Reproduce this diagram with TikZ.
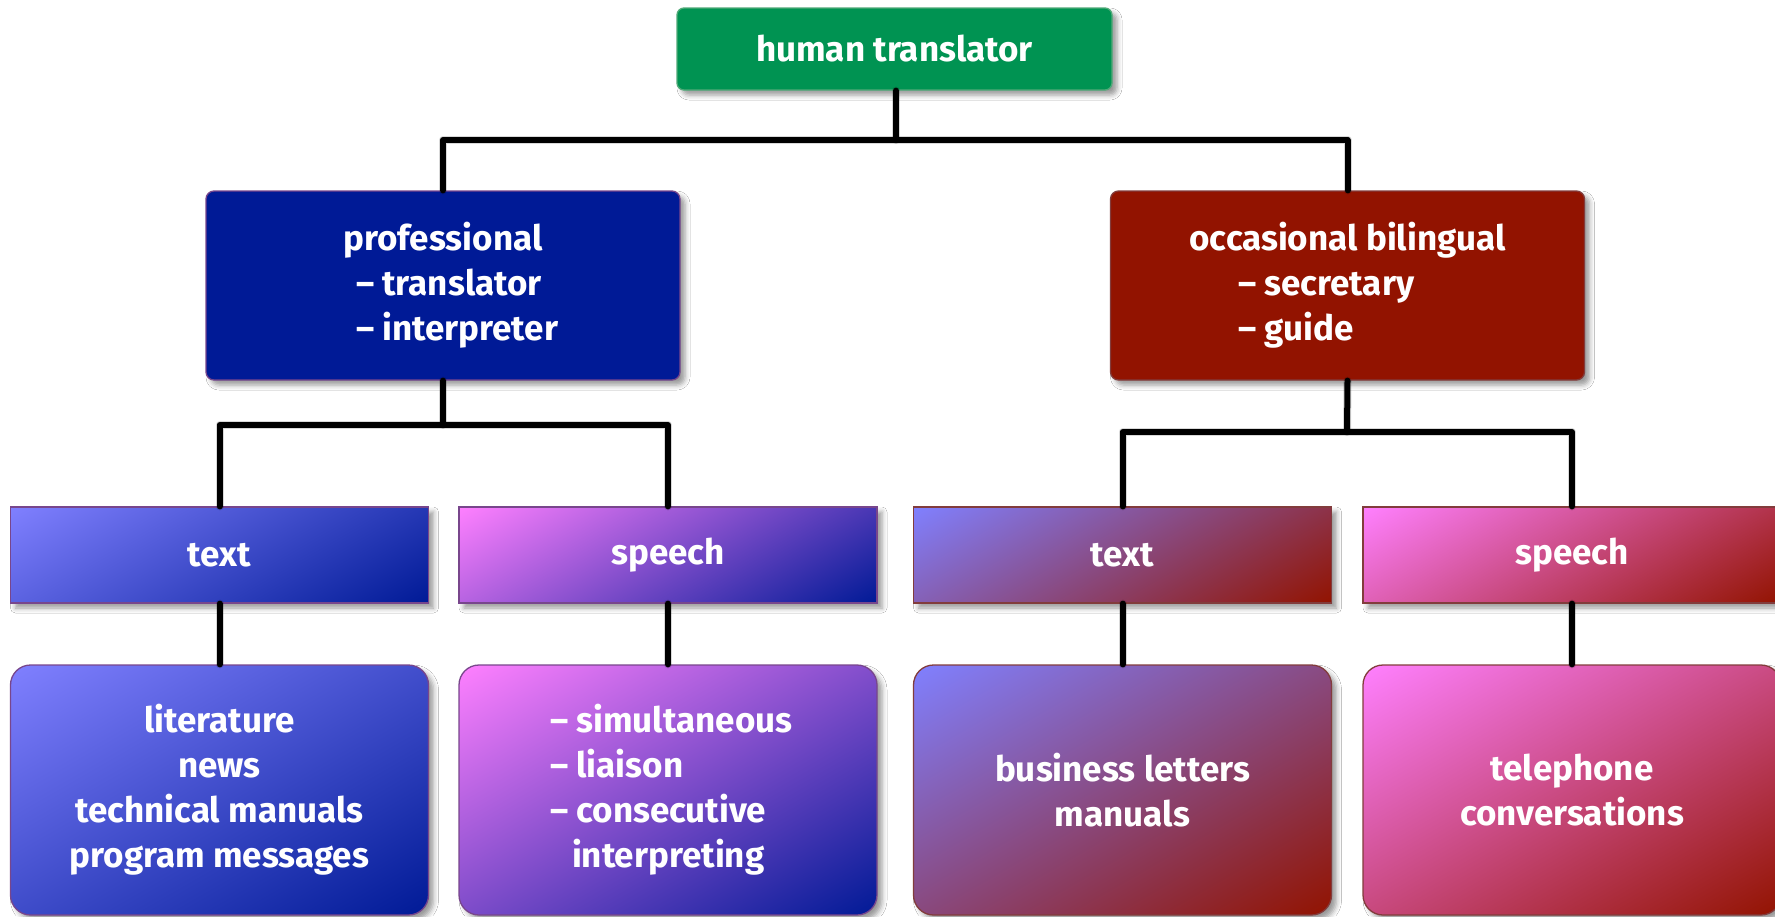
\documentclass[tikz,border=0pt]{standalone}
\usepackage{fontspec}
\setmainfont{Fira Sans}
\usetikzlibrary{shadows.blur}
\definecolor{cgreen}{RGB}{0,147,82}
\definecolor{cnavy}{RGB}{0,26,150}
\definecolor{cred}{RGB}{146,19,0}
\definecolor{bpurple}{RGB}{120,70,140}
\definecolor{bbrown}{RGB}{130,60,60}
\definecolor{bgreen}{RGB}{80,170,120}
% linear gradient, top-left = first colour, bottom-right = second colour
% #1 name, #2 weight of x (per bp), #3 weight of downward y (per bp), #4 rgb code from t
\newcommand\mkgrad[4]{%
  \pgfdeclarefunctionalshading{#1}{\pgfpointorigin}{\pgfpoint{100bp}{100bp}}{}{
    75 exch sub #3 mul exch 25 sub #2 mul add
    dup 0 lt {pop 0} if dup 1 gt {pop 1} if
    #4}}
\def\cblnv{dup -0.502 mul 0.502 add exch dup -0.400 mul 0.502 add exch -0.412 mul 1.0 add}
\def\cpknv{dup -1.0 mul 1.0 add exch dup -0.400 mul 0.502 add exch -0.412 mul 1.0 add}
\def\cblrd{dup 0.071 mul 0.502 add exch dup -0.427 mul 0.502 add exch -1.0 mul 1.0 add}
\def\cpkrd{dup -0.427 mul 1.0 add exch dup -0.427 mul 0.502 add exch -1.0 mul 1.0 add}
% wide boxes (418x96)
\mkgrad{wblue}{0.01431}{0.00569}{\cblnv}
\mkgrad{wpink}{0.01431}{0.00569}{\cpknv}
\mkgrad{wbr}{0.01431}{0.00569}{\cblrd}
\mkgrad{wpr}{0.01431}{0.00569}{\cpkrd}
% tall boxes (418x250)
\mkgrad{tblue}{0.00982}{0.01018}{\cblnv}
\mkgrad{tpink}{0.00982}{0.01018}{\cpknv}
\mkgrad{tbr}{0.00982}{0.01018}{\cblrd}
\mkgrad{tpr}{0.00982}{0.01018}{\cpkrd}
\tikzset{
  box/.style={inner sep=0pt, text=white, align=center,
    font=\fontsize{35}{45}\selectfont\bfseries, line width=1.3pt,
    blur shadow={shadow xshift=5pt, shadow yshift=-5pt, shadow blur radius=5pt, shadow opacity=40}},
  topbox/.style={box, fill=cgreen, draw=bgreen, rounded corners=7pt, minimum width=435pt, minimum height=82pt},
  midbox/.style={box, rounded corners=8pt, minimum width=474pt, minimum height=189pt},
  lthree/.style={box, minimum width=418pt, minimum height=96pt},
  lfour/.style={box, rounded corners=20pt, minimum width=418pt, minimum height=250pt},
  pl/.style={draw=bpurple}, rl/.style={draw=bbrown},
  conn/.style={line width=6pt, line cap=round, line join=round, black},
  connshadow/.style={line width=8pt, line cap=round, line join=round, black, opacity=0.15, shift={(3pt,-4pt)}}
}
\begin{document}
\begin{tikzpicture}[x=1pt,y=-1pt]
\useasboundingbox (0,0) rectangle (1775,916);
\fill[white] (0,0) rectangle (1775,916);
% nodes
\node[topbox] (top) at (894.5,49) {human translator};
\node[midbox, fill=cnavy, pl] (prof) at (443,285.5)
  {professional\\\makebox[174pt][l]{– translator}\\\makebox[174pt][l]{– interpreter}};
\node[midbox, fill=cred, rl] (occ) at (1347.5,285.5)
  {occasional bilingual\\\makebox[219pt][l]{– secretary}\\\makebox[219pt][l]{– guide}};
\node[lthree, shade, shading=wblue, pl] (t1) at (219.5,555) {text};
\node[lthree, shade, shading=wpink, pl] (s1) at (668,555) {speech};
\node[lthree, shade, shading=wbr, rl] (t2) at (1122.5,555) {text};
\node[lthree, shade, shading=wpr, rl] (s2) at (1572,555) {speech};
\node[lfour, shade, shading=tblue, pl] (t1b) at (219.5,790) {literature\\news\\technical manuals\\program messages};
\node[lfour, shade, shading=tpink, pl] (s1b) at (668,790)
  {\makebox[236pt][l]{– simultaneous}\\\makebox[236pt][l]{– liaison}\\\makebox[236pt][l]{– consecutive}\\\makebox[236pt][l]{\hspace{22pt}interpreting}};
\node[lfour, shade, shading=tbr, rl] (t2b) at (1122.5,790) {business letters\\manuals};
\node[lfour, shade, shading=tpr, rl] (s2b) at (1572,790) {telephone\\conversations};
% bar coordinates
\coordinate (b0) at (896,140);
\coordinate (b1) at (443,425);
\coordinate (b2) at (1347,432);
% connectors (shadow pass, then line pass)
\foreach \st in {connshadow, conn}{
  \draw[\st] (top.south -| b0) -- (b0);
  \draw[\st] (prof.north) |- (b0) -| (occ.north);
  \draw[\st] (prof.south) -- (b1);
  \draw[\st] (t1.north) |- (b1) -| (s1.north);
  \draw[\st] (occ.south) -- (b2);
  \draw[\st] (t2.north) |- (b2) -| (s2.north);
  \draw[\st] (t1.south) -- (t1b.north);
  \draw[\st] (s1.south) -- (s1b.north);
  \draw[\st] (t2.south) -- (t2b.north);
  \draw[\st] (s2.south) -- (s2b.north);
}
\end{tikzpicture}
\end{document}
